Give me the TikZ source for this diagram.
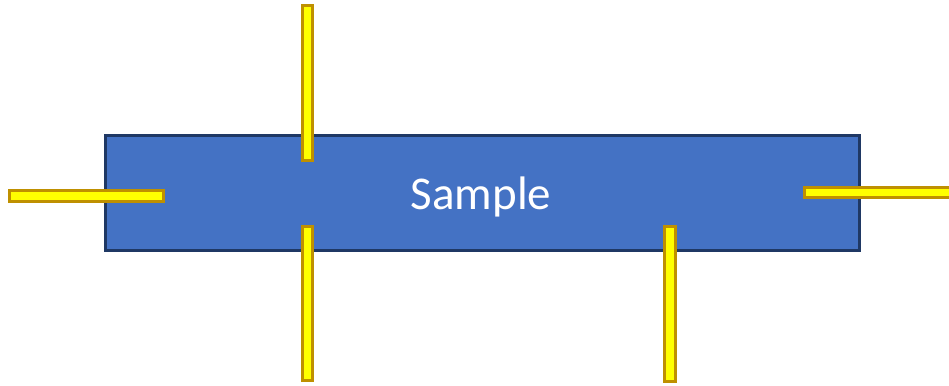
\documentclass[tikz,border=0pt]{standalone}
\usepackage{fontspec}
\setmainfont{Carlito}
\definecolor{sampleblue}{HTML}{4472C4}
\definecolor{sampleedge}{HTML}{1F3864}
\definecolor{probefill}{HTML}{FFFF00}
\definecolor{probeedge}{HTML}{BF9000}
\begin{document}
\begin{tikzpicture}[x=1pt,y=-1pt,
  samplebox/.style={draw=sampleedge,fill=sampleblue,line width=2.5pt},
  probe/.style={draw=probeedge,fill=probefill,line width=2.5pt}]
\useasboundingbox (0,0) rectangle (949,385);
% sample body
\draw[samplebox] (105.5,135.5) rectangle (859.5,250.5);
\node[text=white,font=\fontsize{47}{54}\selectfont] (label) at (481,197) {Sample};
% contact probes
\draw[probe] (9.5,190.5) rectangle (163.5,201.5);
\draw[probe] (302.5,5.5) rectangle (312.5,160.5);
\draw[probe] (302.5,226.5) rectangle (312.5,380.5);
\draw[probe] (664.5,226.5) rectangle (675.5,381.5);
\draw[probe] (804.5,187.5) rectangle (952,197.5);
\end{tikzpicture}
\end{document}
